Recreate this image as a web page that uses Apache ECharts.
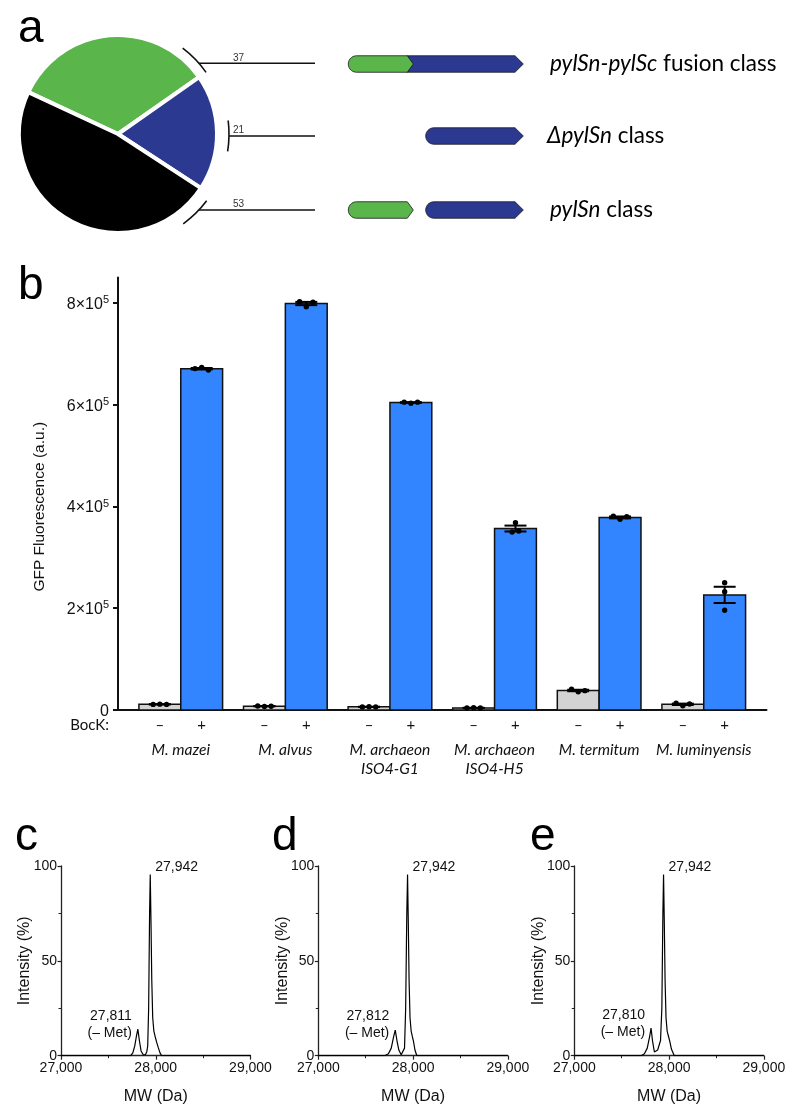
<!DOCTYPE html>
<html><head><meta charset="utf-8">
<script src="https://cdn.jsdelivr.net/npm/echarts@6/dist/echarts.min.js"></script>
<style>html,body{margin:0;padding:0;background:#fff}#c{width:800px;height:1118px}</style>
</head><body><div id="c"></div>
<script>
// ---------- Panel a data ----------
const classNames = ['pylSn-pylSc fusion class', 'ΔpylSn class', 'pylSn class'];
const classCounts = [37, 21, 53];

// ---------- Panel b data ----------
const species = ['M. mazei', 'M. alvus', 'M. archaeon\nISO4-G1', 'M. archaeon\nISO4-H5', 'M. termitum', 'M. luminyensis'];
const bockLabels = ['–', '+'];
const repsMinus = [[11000, 11500, 11000], [8000, 7000, 7500], [6000, 6500, 6000], [4000, 4500, 4000], [41000, 36000, 38000], [13200, 8500, 11800]];
const repsPlus = [[671000, 673000, 668000], [802500, 792500, 801500], [605000, 603000, 605000], [349900, 368200, 351800], [380700, 374800, 380000], [250200, 232500, 196000]];
const yTicksB = [0, 200000, 400000, 600000, 800000];

// ---------- Panels c-e data ----------
const mwTicks = [27000, 28000, 29000];
const intensityTicks = [0, 50, 100];
const spectrumC = [[27000,0],[27735,0],[27758,1.5],[27778,5],[27795,10],[27811,14],[27827,8],[27845,2.5],[27868,0.5],[27890,0.5],[27905,2],[27915,5],[27925,25],[27935,75],[27942,95.5],[27950,70],[27958,40],[27968,20],[27980,13],[27994,10],[28010,7],[28025,4.5],[28045,1.5],[28062,0],[29000,0]];
const spectrumD = [[27000,0],[27700,0],[27740,1],[27770,4],[27795,10],[27812,13.5],[27830,8],[27850,3],[27875,0.5],[27895,0.5],[27910,4],[27922,25],[27934,75],[27942,95.5],[27950,70],[27958,40],[27968,20],[27980,13],[27993,10],[28003,8],[28020,3],[28040,0],[29000,0]];
const spectrumE = [[27000,0],[27705,0],[27740,1],[27770,4],[27795,10],[27810,14.5],[27825,8],[27845,2],[27862,1],[27880,3],[27895,4],[27910,8],[27924,25],[27935,75],[27942,95.5],[27950,70],[27958,40],[27968,20],[27980,13],[27995,10],[28008,7.5],[28025,3.5],[28055,0],[29000,0]];
const mainPeakLabel = '27,942';
const metPeakLabels = ['27,811', '27,812', '27,810'];
const metPeakMW = [27811, 27812, 27810];

// ---------- helpers ----------
const SANS = '"Liberation Sans", Arial, sans-serif';
const MYRIAD = 'Lato, "Noto Sans", sans-serif';
const GREEN = '#5ab54b', NAVY = '#2c3990', BLUE = '#3385ff', GREY = '#d3d3d3';
const HALF_W = 0.2, CAP_W = 0.105;

function stats(a) {
  const n = a.length, m = a.reduce((s, v) => s + v, 0) / n;
  const sd = Math.sqrt(a.reduce((s, v) => s + (v - m) * (v - m), 0) / (n - 1));
  return [m, sd / Math.sqrt(n)];
}
function barData(reps, shift) {
  return reps.map((r, i) => { const ms = stats(r); return [i + shift, ms[0], ms[1]].concat(r); });
}
function jitter(ys) {
  const idx = ys.map((y, i) => i).sort((a, b) => ys[a] - ys[b]);
  const clusters = []; let cur = [idx[0]];
  for (let k = 1; k < idx.length; k++) {
    if (ys[idx[k]] - ys[idx[k - 1]] < 5) cur.push(idx[k]); else { clusters.push(cur); cur = [idx[k]]; }
  }
  clusters.push(cur);
  const off = new Array(ys.length).fill(0);
  clusters.forEach(c => { c.sort((a, b) => a - b); c.forEach((i, k) => { off[i] = (k - (c.length - 1) / 2) * 6.7; }); });
  return off;
}
function barRenderer(fill) {
  return function (params, api) {
    const x = api.value(0), m = api.value(1), s = api.value(2);
    const reps = [api.value(3), api.value(4), api.value(5)];
    const tl = api.coord([x - HALF_W, m]), br = api.coord([x + HALF_W, 0]);
    const cx = api.coord([x, m])[0];
    const yt = api.coord([x, m + s])[1], yb = api.coord([x, m - s])[1];
    const cl = api.coord([x - CAP_W, 0])[0], cr = api.coord([x + CAP_W, 0])[0];
    const children = [
      { type: 'rect', shape: { x: tl[0], y: tl[1], width: br[0] - tl[0], height: br[1] - tl[1] }, style: { fill: fill, stroke: '#111', lineWidth: 1.5 } },
      { type: 'line', shape: { x1: cx, y1: yt, x2: cx, y2: yb }, style: { stroke: '#000', lineWidth: 2 } },
      { type: 'line', shape: { x1: cl, y1: yt, x2: cr, y2: yt }, style: { stroke: '#000', lineWidth: 2 } },
      { type: 'line', shape: { x1: cl, y1: yb, x2: cr, y2: yb }, style: { stroke: '#000', lineWidth: 2 } }
    ];
    const ys = reps.map(v => api.coord([x, v])[1]);
    const offs = jitter(ys);
    ys.forEach((y, k) => children.push({ type: 'circle', shape: { cx: cx + offs[k], cy: y, r: 2.7 }, style: { fill: '#000' } }));
    return { type: 'group', children: children };
  };
}
function genePoly(x0, x1, yc, h, tip, roundLeft, notch) {
  const pts = [], t = yc - h / 2, b = yc + h / 2, r = h / 2;
  if (roundLeft) {
    for (let k = 0; k <= 14; k++) {
      const a = Math.PI / 2 + Math.PI * k / 14;
      pts.push([x0 + r + r * Math.cos(a), yc + r * Math.sin(a)]);
    }
  } else {
    pts.push([x0, b]); if (notch) pts.push([x0 + notch, yc]); pts.push([x0, t]);
  }
  pts.push([x1 - tip, t]); pts.push([x1, yc]); pts.push([x1 - tip, b]);
  return pts;
}
function geneShape(pts, fill) {
  return { type: 'polygon', shape: { points: pts }, style: { fill: fill, stroke: '#1a1a1a', lineWidth: 0.8 }, silent: true };
}

// ---------- graphic elements ----------
const PIE_C = [118, 134], PIE_R = 99;
const deg = Math.PI / 180;
const graphics = [];
[['a', 18, 29], ['b', 18, 286], ['c', 15, 837], ['d', 272, 837], ['e', 530, 837]].forEach(l => {
  graphics.push({ type: 'text', x: l[1], y: l[2], silent: true, style: { text: l[0], font: '46px ' + SANS, fill: '#000', verticalAlign: 'middle' } });
});
const brackets = [
  { r: 107.5, a0: 35, a1: 53, ly: 63.3, count: classCounts[0] },
  { r: 111, a0: -9, a1: 7, ly: 136, count: classCounts[1] },
  { r: 111, a0: -54, a1: -37, ly: 210, count: classCounts[2] }
];
brackets.forEach(b => {
  graphics.push({ type: 'arc', silent: true, shape: { cx: PIE_C[0], cy: PIE_C[1], r: b.r, startAngle: -b.a1 * deg, endAngle: -b.a0 * deg }, style: { stroke: '#111', lineWidth: 1.6, fill: null } });
  const dy = b.ly - PIE_C[1];
  const xs = PIE_C[0] + Math.sqrt(Math.max(0, b.r * b.r - dy * dy));
  graphics.push({ type: 'line', silent: true, shape: { x1: xs, y1: b.ly, x2: 315, y2: b.ly }, style: { stroke: '#111', lineWidth: 1.5 } });
  graphics.push({ type: 'text', silent: true, x: 233, y: b.ly - 5.5, style: { text: String(b.count), font: '10px ' + SANS, fill: '#333', verticalAlign: 'middle' } });
});
const GH = 16.5;
graphics.push(geneShape(genePoly(407, 523.3, 64, GH, 8.3, false, 6), NAVY));
graphics.push(geneShape(genePoly(348.3, 413.3, 64, GH, 6, true), GREEN));
graphics.push(geneShape(genePoly(425.7, 523.3, 136, GH, 8.3, true), NAVY));
graphics.push(geneShape(genePoly(348.3, 413.3, 210, GH, 6, true), GREEN));
graphics.push(geneShape(genePoly(425.7, 523.3, 210, GH, 8.3, true), NAVY));
const CF = 22.5;
const classRich = {
  g: { fontFamily: MYRIAD, fontSize: CF, fontStyle: 'italic', color: GREEN },
  gn: { fontFamily: MYRIAD, fontSize: CF, color: GREEN },
  b: { fontFamily: MYRIAD, fontSize: CF, fontStyle: 'italic', color: NAVY },
  bn: { fontFamily: MYRIAD, fontSize: CF, color: NAVY },
  k: { fontFamily: MYRIAD, fontSize: CF, fontStyle: 'italic', color: '#111' },
  kn: { fontFamily: MYRIAD, fontSize: CF, color: '#111' }
};
function splitClass(name) { const i = name.indexOf(' '); return [name.slice(0, i), name.slice(i)]; }
const classStyles = [['g', 'gn'], ['b', 'bn'], ['k', 'kn']];
[64, 136, 210].forEach((y, i) => {
  const p = splitClass(classNames[i]);
  graphics.push({ type: 'text', silent: true, x: i === 1 ? 547 : 550, y: y, style: { text: '{' + classStyles[i][0] + '|' + p[0] + '}{' + classStyles[i][1] + '|' + p[1] + '}', rich: classRich, verticalAlign: 'middle' } });
});
graphics.push({ type: 'text', silent: true, x: 109, y: 725, style: { text: 'BocK:', font: '15px ' + MYRIAD, fill: '#111', align: 'right', verticalAlign: 'middle' } });

// ---------- axes / series ----------
const specLefts = [61, 318.3, 574.3];
const spectra = [spectrumC, spectrumD, spectrumE];
const grids = [{ left: 118, top: 277.5, width: 648.5, height: 432.5, containLabel: false, outerBoundsMode: 'none' }];
const xAxes = [], yAxes = [], series = [];

xAxes.push({
  type: 'value', gridIndex: 0, min: -0.6, max: 5.6, position: 'bottom',
  axisLine: { show: true, onZero: false, lineStyle: { color: '#111', width: 2 } },
  axisTick: { show: false }, splitLine: { show: false },
  axisLabel: {
    show: true, margin: 8, color: '#111', fontFamily: MYRIAD, fontSize: 15,
    customValues: species.reduce((a, s, i) => a.concat([i - HALF_W, i + HALF_W]), []),
    formatter: v => (v < Math.round(v) ? bockLabels[0] : bockLabels[1])
  }
});
xAxes.push({
  type: 'value', gridIndex: 0, min: -0.6, max: 5.6, position: 'bottom',
  axisLine: { show: false, onZero: false }, axisTick: { show: false }, splitLine: { show: false },
  axisLabel: {
    show: true, margin: 30, color: '#111', fontFamily: MYRIAD, fontSize: 15.6, fontStyle: 'italic', lineHeight: 19,
    customValues: species.map((s, i) => i),
    formatter: v => species[Math.round(v)]
  }
});
yAxes.push({
  type: 'value', gridIndex: 0, min: 0, max: 850000,
  name: 'GFP Fluorescence (a.u.)', nameLocation: 'middle', nameGap: 70,
  nameTextStyle: { fontFamily: SANS, fontSize: 15.5, color: '#111', padding: [0, 26, 0, 0] },
  axisLine: { show: true, onZero: false, lineStyle: { color: '#111', width: 2 } },
  axisTick: { show: true, length: 5, customValues: yTicksB, lineStyle: { color: '#111', width: 2 } },
  splitLine: { show: false },
  axisLabel: {
    show: true, margin: 9, color: '#111', customValues: yTicksB,
    formatter: v => v === 0 ? '{m|0}' : '{m|' + (v / 100000) + '×10}{s|5}',
    rich: { m: { fontFamily: SANS, fontSize: 16, color: '#111', padding: [3, 0, 0, 0] }, s: { fontFamily: SANS, fontSize: 11, color: '#111', padding: [0, 0, 6, 0] } }
  }
});
series.push({ type: 'custom', xAxisIndex: 0, yAxisIndex: 0, data: barData(repsMinus, -HALF_W), renderItem: barRenderer(GREY), encode: { x: 0, y: 1 }, clip: false, silent: true });
series.push({ type: 'custom', xAxisIndex: 0, yAxisIndex: 0, data: barData(repsPlus, HALF_W), renderItem: barRenderer(BLUE), encode: { x: 0, y: 1 }, clip: false, silent: true });

series.push({
  type: 'pie', center: PIE_C, radius: PIE_R, startAngle: 155, clockwise: true, silent: true,
  label: { show: false }, labelLine: { show: false },
  itemStyle: { borderColor: '#fff', borderWidth: 4 },
  data: classCounts.map((v, i) => ({ value: v, name: classNames[i], itemStyle: { color: [GREEN, NAVY, '#000'][i] } }))
});

spectra.forEach((sp, k) => {
  const gi = k + 1;
  grids.push({ left: specLefts[k], top: 866, width: 189.5, height: 189.7, containLabel: false, outerBoundsMode: 'none' });
  xAxes.push({
    type: 'value', gridIndex: gi, min: mwTicks[0], max: mwTicks[mwTicks.length - 1], interval: 1000,
    name: 'MW (Da)', nameLocation: 'middle', nameGap: 33, nameMoveOverlap: false,
    nameTextStyle: { fontFamily: SANS, fontSize: 16, color: '#111' },
    axisLine: { onZero: false, lineStyle: { color: '#222', width: 1.3 } },
    axisTick: { show: true, length: 4, lineStyle: { color: '#222', width: 1.2 } },
    minorTick: { show: true, splitNumber: 2, length: 2.5, lineStyle: { color: '#222', width: 1 } },
    splitLine: { show: false }, minorSplitLine: { show: false },
    axisLabel: { margin: 5, fontFamily: SANS, fontSize: 14, color: '#111', formatter: v => v.toLocaleString('en-US') }
  });
  yAxes.push({
    type: 'value', gridIndex: gi, min: intensityTicks[0], max: intensityTicks[intensityTicks.length - 1], interval: 50,
    name: 'Intensity (%)', nameLocation: 'middle', nameGap: 28, nameMoveOverlap: false,
    nameTextStyle: { fontFamily: SANS, fontSize: 16, color: '#111' },
    axisLine: { show: true, onZero: false, lineStyle: { color: '#222', width: 1.3 } },
    axisTick: { show: true, length: 3.5, lineStyle: { color: '#222', width: 1.2 } },
    minorTick: { show: true, splitNumber: 2, length: 2.5, lineStyle: { color: '#222', width: 1 } },
    splitLine: { show: false }, minorSplitLine: { show: false },
    axisLabel: { margin: 4, fontFamily: SANS, fontSize: 14, color: '#111' }
  });
  const peak = sp.reduce((a, b) => (b[1] > a[1] ? b : a));
  const met = sp.find(p => p[0] === metPeakMW[k]);
  series.push({
    type: 'line', xAxisIndex: gi + 1, yAxisIndex: gi, data: sp, showSymbol: false, symbol: 'none', silent: true,
    lineStyle: { color: '#000', width: 1.2 },
    markPoint: {
      symbol: 'circle', symbolSize: 0, silent: true, animation: false,
      data: [
        { coord: peak, label: { show: true, position: 'right', distance: 5, offset: [0, -7], formatter: mainPeakLabel, fontFamily: SANS, fontSize: 14, color: '#111' } },
        { coord: met, label: { show: true, position: 'left', distance: 6, offset: [0, -5], formatter: metPeakLabels[k] + '\n(– Met)', lineHeight: 17, fontFamily: SANS, fontSize: 14, color: '#111' } }
      ]
    }
  });
});

const chart = echarts.init(document.getElementById('c'), null, { renderer: 'canvas', width: 800, height: 1118 });
chart.setOption({
  animation: false,
  backgroundColor: '#fff',
  grid: grids, xAxis: xAxes, yAxis: yAxes, series: series,
  graphic: { elements: graphics }
});
</script>
</body></html>
